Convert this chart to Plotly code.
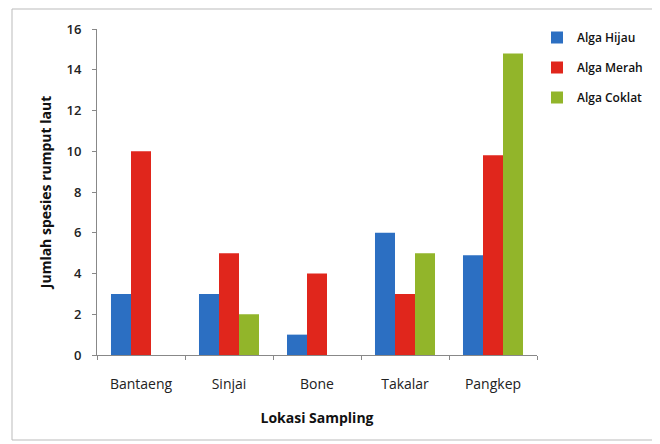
import plotly.graph_objects as go

categories = ["Bantaeng", "Sinjai", "Bone", "Takalar", "Pangkep"]
alga_hijau = [3, 3, 1, 6, 4.9]
alga_merah = [10, 5, 4, 3, 9.8]
alga_coklat = [0, 2, 0, 5, 14.8]
series_names = ["Alga Hijau", "Alga Merah", "Alga Coklat"]
colors = ["#2c6fc2", "#e0261c", "#92b52a"]
y_ticks = [0, 2, 4, 6, 8, 10, 12, 14, 16]

fig = go.Figure()
for i, (name, vals) in enumerate(zip(series_names, [alga_hijau, alga_merah, alga_coklat])):
    fig.add_trace(go.Bar(x=categories, y=vals, name=name, marker_color=colors[i],
                         marker_line_width=0, legendgroup=name))

# page body has an 8px margin; work in screen coordinates.
OFF = 8
FW, FH = 660 - OFF, 444 - OFF
L, R_EDGE, T, B_EDGE = 97, 537, 29, 355  # screen positions of plot area edges
pw, ph = R_EDGE - L, B_EDGE - T

def px(x):
    return (x - L) / pw

def py(y):
    return (B_EDGE - y) / ph

font = "Open Sans, sans-serif"
fig.update_layout(
    width=FW, height=FH,
    margin=dict(l=L - OFF, r=FW - (R_EDGE - OFF), t=T - OFF, b=FH - (B_EDGE - OFF)),
    paper_bgcolor="white", plot_bgcolor="white",
    barmode="group", bargap=0.318, bargroupgap=0,
    font=dict(family=font, size=14, color="#222"),
    showlegend=True,
    legend=dict(x=px(537), y=py(23), xanchor="left", yanchor="top",
                traceorder="grouped", tracegroupgap=11, itemwidth=30,
                font=dict(family=font, size=12, color="#111", weight=600),
                bgcolor="rgba(0,0,0,0)"),
    xaxis=dict(showline=True, linecolor="#888", linewidth=1,
               ticks="outside", tickson="boundaries", ticklen=4, tickcolor="#888",
               tickfont=dict(family=font, size=14, color="#222"),
               ticklabelstandoff=16,
               title=dict(text="Lokasi Sampling", standoff=21,
                          font=dict(family=font, size=14, color="#111", weight="bold")),
               showgrid=False),
    yaxis=dict(range=[0, 16], tickvals=y_ticks, showline=True, linecolor="#888", linewidth=1,
               ticks="outside", ticklen=4, tickcolor="#888",
               tickfont=dict(family=font, size=13, color="#222", weight=600),
               ticklabelstandoff=8,
               title=dict(text="Jumlah spesies rumput laut", standoff=11,
                          font=dict(family=font, size=14, color="#111", weight="bold")),
               showgrid=False, zeroline=False),
    shapes=[dict(type="rect", xref="paper", yref="paper",
                 x0=px(12), x1=px(700), y0=py(440), y1=py(9),
                 line=dict(color="#bbb", width=1), fillcolor="rgba(0,0,0,0)", layer="below")],
)

fig.write_html("out.html")
